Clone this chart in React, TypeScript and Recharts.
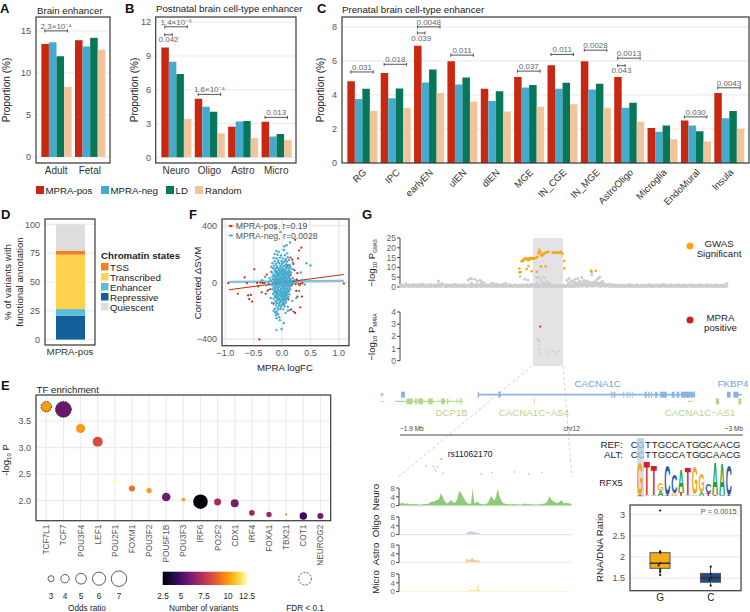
import {
  Area,
  AreaChart,
  Bar,
  BarChart,
  CartesianGrid,
  ComposedChart,
  ReferenceArea,
  ReferenceDot,
  ReferenceLine,
  Scatter,
  ScatterChart,
  XAxis,
  YAxis,
} from 'recharts'

const FONT = '"Liberation Sans", Arial, sans-serif'

// series colours shared by panels A, B, C
const SERIES = ['MPRA-pos', 'MPRA-neg', 'LD', 'Random']
const SERIES_COLORS = ['#C8280F', '#45ABCE', '#07775A', '#F0C59B']

// panel A
const brainCats = ['Adult', 'Fetal']
const brainPos = [13.45, 13.89]
const brainNeg = [13.65, 13.13]
const brainLd = [11.98, 14.17]
const brainRandom = [8.33, 12.74]
const brainBrackets = [{ cat: 0, to: 3, y: 15, label: '2.3×10⁻⁴', side: 'top' }]

// panel B
const postnatalCats = ['Neuro', 'Oligo', 'Astro', 'Micro']
const postnatalPos = [9.75, 5.2, 2.72, 3.16]
const postnatalNeg = [8.48, 4.49, 3.19, 1.86]
const postnatalLd = [7.39, 4.05, 3.22, 2.07]
const postnatalRandom = [3.4, 2.13, 1.71, 1.57]
const postnatalBrackets = [
  { cat: 0, to: 3, y: 11.59, label: '1.4×10⁻⁹', side: 'top' },
  { cat: 0, to: 1, y: 10.88, label: '0.042', side: 'bottom' },
  { cat: 1, to: 3, y: 5.59, label: '1.6×10⁻⁴', side: 'top' },
  { cat: 3, to: 3, y: 3.55, label: '0.013', side: 'top' },
]

// panel C
const prenatalCats = ['RG', 'IPC', 'earlyEN', 'ulEN', 'dlEN', 'MGE', 'IN_CGE', 'IN_MGE', 'AstroOligo', 'Microglia', 'EndoMural', 'Insula']
const prenatalPos = [4.81, 5.29, 6.89, 5.98, 4.36, 5.05, 5.74, 5.98, 5.05, 2.06, 2.5, 4.12]
const prenatalNeg = [3.76, 3.8, 4.73, 4.61, 3.64, 4.44, 4.36, 4.32, 3.25, 1.84, 2.2, 2.63]
const prenatalLd = [4.36, 4.38, 5.5, 5.03, 4.22, 4.59, 4.71, 4.65, 3.54, 2.2, 1.86, 3.05]
const prenatalRandom = [3.07, 3.25, 4.12, 3.62, 3.03, 3.31, 3.45, 3.25, 2.42, 1.39, 1.27, 2.02]
const prenatalBrackets = [
  { cat: 0, to: 3, y: 5.35, label: '0.031', side: 'top' },
  { cat: 1, to: 3, y: 5.8, label: '0.018', side: 'top' },
  { cat: 2, to: 3, y: 8.0, label: '0.0048', side: 'top' },
  { cat: 2, to: 1, y: 7.64, label: '0.039', side: 'bottom' },
  { cat: 3, to: 3, y: 6.34, label: '0.011', side: 'top' },
  { cat: 5, to: 3, y: 5.4, label: '0.037', side: 'top' },
  { cat: 6, to: 3, y: 6.38, label: '0.011', side: 'top' },
  { cat: 7, to: 3, y: 6.63, label: '0.0028', side: 'top' },
  { cat: 8, to: 3, y: 6.16, label: '0.0013', side: 'top' },
  { cat: 8, to: 1, y: 5.72, label: '0.043', side: 'bottom' },
  { cat: 10, to: 3, y: 2.71, label: '0.030', side: 'top' },
  { cat: 11, to: 3, y: 4.42, label: '0.0043', side: 'top' },
]

// panel D, bottom to top
const chromatinStates = ['Repressive', 'Enhancer', 'Transcribed', 'TSS', 'Quiescent']
const chromatinShare = [20.8, 5.7, 47.2, 3.5, 22.8]
const chromatinColors = ['#125F9A', '#5BBCDC', '#FFD24F', '#F47F20', '#DEDCDD']
const chromatinLegend = ['TSS', 'Transcribed', 'Enhancer', 'Repressive', 'Quiescent']

// panel E
const tfNames = ['TCF7L1', 'TCF7', 'POU3F4', 'LEF1', 'POU2F1', 'FOXM1', 'POU3F2', 'POU5F1B', 'POU3F3', 'IRF6', 'PO2F2', 'CDX1', 'IRF4', 'FOXA1', 'TBX21', 'COT1', 'NEUROG2']
const tfLogP = [3.77, 3.72, 3.36, 3.11, 2.36, 2.23, 2.19, 2.07, 2.02, 1.98, 1.975, 1.95, 1.77, 1.74, 1.74, 1.71, 1.71]
const tfOdds = [4.9, 7.2, 4.3, 4.7, 2.1, 3, 2.7, 4.1, 2.1, 6.6, 3.4, 3.8, 2.8, 2.7, 1.3, 3.6, 3]
const tfVariants = [10.3, 5.5, 10.3, 8.3, 12.5, 9.3, 10.3, 5.7, 10.5, 2.5, 6.9, 5.8, 6.5, 6.7, 9.5, 4.3, 5.8]
const tfFdrSignificant = ['TCF7L1', 'TCF7']
const oddsLegend = [3, 4, 5, 6, 7]
const INFERNO = ['#000004', '#160b39', '#420a68', '#6a176e', '#932667', '#bc3754', '#dd513a', '#f37819', '#fca50a', '#f6d746', '#fcffa4']

// panel F [logFC, corrected dSVM]
const posPoints = [
  [-0.95, -5], [-0.78, -80], [-0.66, 35], [-0.62, -5], [-0.6, -92], [-0.58, -118], [-0.55, -88], [-0.53, -135], [-0.49, 92], [-0.44, -3],
  [-0.42, -28], [-0.4, -402], [-0.38, -2], [-0.36, -70], [-0.34, -5], [-0.31, -4], [-0.29, -80], [-0.27, 55], [-0.25, -55], [-0.23, -15],
  [-0.21, -48], [-0.19, 75], [-0.17, -18], [-0.15, -150], [-0.13, -5], [-0.11, -62], [-0.09, -10], [-0.07, 25], [-0.05, -5], [0.03, -5],
  [0.05, 8], [0.08, -10], [0.1, 120], [0.12, -8], [0.13, -30], [0.15, 50], [0.16, -190], [0.17, -20], [0.18, 160], [0.18, -10],
  [0.2, 130], [0.2, -205], [0.21, 5], [0.23, 300], [0.23, -215], [0.24, -12], [0.25, -60], [0.26, 20], [0.27, -100], [0.28, 170],
  [0.29, -10], [0.3, 225], [0.31, -20], [0.32, -175], [0.33, -8], [0.34, 245], [0.35, -100], [0.36, -5], [1.09, -8], [0.15, 175],
  [0.02, -90], [0.06, 60], [-0.02, 15], [0.11, -120], [0.22, 85], [0.27, 65],
]
const negPoints = [
  [-0.12, 380], [-0.03, 355], [0.14, 281], [0.08, 262], [0.04, 255], [-0.1, 222], [-0.06, 215], [0.03, 228], [0.09, 205], [-0.13, 200],
  [-0.08, 195], [-0.02, 190], [0.05, 192], [0.1, 178], [-0.15, 172], [-0.1, 170], [-0.04, 175], [0.01, 168], [0.06, 165], [0.12, 160],
  [-0.13, 150], [-0.07, 155], [-0.01, 150], [0.04, 148], [0.09, 145], [-0.17, 135], [-0.11, 132], [-0.05, 135], [0, 130], [0.07, 128],
  [0.13, 125], [-0.14, 118], [-0.09, 115], [-0.03, 118], [0.02, 112], [0.05, 118], [0.1, 108], [0.15, 112], [-0.16, 100], [-0.12, 97],
  [-0.07, 100], [-0.01, 96], [0.03, 94], [0.08, 98], [0.12, 90], [0.17, 94], [-0.13, 84], [-0.09, 80], [-0.05, 86], [0, 78],
  [0.04, 82], [0.09, 76], [0.14, 78], [-0.18, 70], [-0.11, 68], [-0.06, 66], [-0.02, 72], [0.02, 64], [0.06, 70], [0.11, 62],
  [0.16, 66], [-0.15, 56], [-0.1, 52], [-0.04, 58], [0.01, 50], [0.05, 54], [0.1, 48], [0.13, 56], [-0.17, 42], [-0.12, 38],
  [-0.08, 44], [-0.03, 36], [0.03, 40], [0.07, 34], [0.12, 38], [0.19, 32], [-0.14, 26], [-0.09, 24], [-0.05, 28], [0, 22],
  [0.04, 26], [0.09, 20], [0.15, 24], [0.22, 18], [-0.2, 14], [-0.13, 12], [-0.07, 10], [-0.02, 14], [0.02, 8], [0.06, 12],
  [0.11, 6], [0.17, 10], [0.26, 4], [-0.24, -2], [-0.16, -4], [-0.11, 0], [-0.05, -6], [0, 2], [0.05, -3], [0.1, -8],
  [0.14, 0], [0.2, -6], [-0.18, -16], [-0.12, -20], [-0.08, -14], [-0.03, -22], [0.02, -18], [0.07, -24], [0.12, -16], [0.16, -22],
  [-0.15, -32], [-0.1, -36], [-0.05, -30], [0, -38], [0.04, -34], [0.09, -40], [0.13, -30], [-0.17, -48], [-0.12, -52], [-0.07, -46],
  [-0.02, -54], [0.03, -50], [0.08, -56], [0.14, -48], [-0.14, -64], [-0.09, -68], [-0.04, -62], [0.01, -70], [0.05, -66], [0.1, -72],
  [-0.16, -82], [-0.11, -78], [-0.06, -86], [-0.01, -80], [0.04, -88], [0.08, -82], [0.13, -84], [-0.13, -96], [-0.08, -100], [-0.03, -94],
  [0.02, -102], [0.06, -98], [0.11, -104], [-0.15, -114], [-0.1, -110], [-0.05, -118], [0, -112], [0.04, -120], [0.09, -116], [-0.12, -130],
  [-0.07, -126], [-0.02, -134], [0.03, -128], [0.07, -136], [-0.18, -145], [-0.09, -146], [-0.04, -142], [0.01, -150], [0.05, -148], [-0.11, -162],
  [-0.06, -166], [-0.01, -160], [0.04, -168], [0.1, -172], [-0.13, -185], [-0.08, -180], [-0.03, -186], [0.02, -190], [-0.15, -200], [-0.1, -205],
  [-0.12, -212], [-0.09, -218], [-0.07, -226], [-0.11, -232], [-0.05, -246], [-0.1, -252], [-0.04, -266], [0.03, -286], [-0.1, -336], [-0.01, -328],
  [0.06, -215], [0.1, -200], [0.13, -195], [0.43, 135], [0.5, 120], [0.33, 70], [0.2, 92], [-0.3, 40], [-0.35, 15], [-0.28, -20],
  [-0.22, 30], [0.35, 20], [0.4, -15], [0.3, -60], [0.25, -110], [-0.26, -60], [-0.2, -110], [0.18, -130], [0.19, 140], [-0.19, 110],
  // densest part of the cloud
  [-0.07, 142], [0.02, 140], [0.07, 152], [-0.03, 108], [0.07, 108], [-0.1, 106], [0.13, 102], [-0.05, 92], [0.01, 88], [0.06, 88],
  [-0.12, 76], [-0.08, 72], [-0.03, 80], [0.03, 74], [0.07, 66], [0.12, 72], [-0.07, 58], [-0.01, 60], [0.03, 56], [0.08, 58],
  [-0.14, 48], [-0.06, 46], [-0.01, 44], [0.05, 44], [0.1, 40], [-0.1, 32], [-0.04, 20], [0.02, 32], [0.07, 28], [0.12, 30],
  [-0.16, 22], [-0.11, 18], [-0.02, 26], [0.02, 18], [0.08, 14], [0.13, 16], [-0.09, 6], [-0.04, 4], [0.02, 0], [0.07, 4],
  [0.12, -2], [0.17, -2], [-0.14, -8], [-0.07, -4], [-0.02, -10], [0.03, -10], [0.08, -14], [-0.1, -22], [-0.05, -16], [0, -24],
  [0.05, -22], [0.1, -26], [0.15, -12], [-0.13, -40], [-0.07, -38], [-0.02, -44], [0.02, -40], [0.06, -44], [0.11, -50], [-0.1, -60],
  [-0.06, -56], [-0.01, -64], [0.03, -60], [0.07, -68], [0.12, -62], [-0.12, -72], [-0.07, -76], [-0.03, -72], [0.02, -78], [0.06, -76],
  [-0.1, -90], [-0.04, -88], [0.01, -92], [0.05, -94], [0.09, -92], [-0.11, -104], [-0.06, -108], [-0.01, -104], [0.03, -110], [0.07, -112],
  [-0.08, -120], [-0.03, -124], [0.01, -122], [0.06, -124], [-0.1, -140], [-0.05, -152], [0.02, -138], [-0.02, -172], [0.03, -156], [-0.07, -192],
]
const posTrend = [[-0.94, -52], [1.09, 56]]
const negTrend = [[-0.94, 4], [1.09, 11]]

// panel G, GWAS [Mb, -log10 P]
const gwasSignificant = [
  [2.283, 7.5], [2.283, 9.4], [2.287, 7.6], [2.29, 13], [2.293, 13.8], [2.296, 13.4], [2.299, 14.5], [2.302, 14.2], [2.305, 14.7], [2.308, 14.4],
  [2.311, 13.6], [2.314, 14.6], [2.317, 14.2], [2.32, 14.8], [2.323, 14.4], [2.326, 14.6], [2.329, 14.5], [2.332, 14.7], [2.335, 14.8], [2.338, 15],
  [2.341, 15.4], [2.345, 18], [2.347, 19], [2.344, 17.2], [2.35, 17.8], [2.352, 16.5], [2.354, 16], [2.357, 16.2], [2.36, 16.8], [2.363, 17.2],
  [2.365, 17.5], [2.369, 17.6], [2.372, 17.8], [2.376, 18], [2.389, 17.5], [2.393, 17.7], [2.397, 17.4], [2.401, 17.6], [2.405, 17.4], [2.411, 17.5],
  [2.415, 18], [2.418, 17.6], [2.421, 16.8], [2.427, 13.3], [2.427, 9.5], [2.306, 9.2], [2.312, 10.7], [2.322, 8], [2.339, 7.8], [2.352, 10.5],
  [2.367, 10.4], [2.513, 8.3], [2.514, 7.7], [2.528, 8.3],
]
const gwasPeakGrey = [
  [2.023, 3], [2.119, 3.6], [2.125, 4.4], [2.13, 4.2], [2.14, 3.9], [2.148, 3], [2.157, 3.4], [2.163, 2.6], [2.3, 3.9], [2.31, 3.6],
  [2.285, 5.4], [2.338, 4.9], [2.346, 4.8], [2.363, 4.8], [2.37, 2.7], [2.352, 3.4], [2.358, 2.2], [2.34, 2.2], [2.38, 1.9], [2.435, 3.5],
  [2.442, 4.4], [2.45, 3.2], [2.446, 2.4], [2.455, 2.8], [2.461, 4], [2.465, 2.2], [2.47, 4.4], [2.476, 3], [2.483, 4.9], [2.487, 2.6],
  [2.49, 3.4], [2.495, 2.2], [2.5, 3], [2.505, 2], [2.515, 6.3], [2.52, 2.4], [2.525, 2.7], [2.53, 3.6], [2.536, 4.4], [2.54, 5.1],
  [2.544, 2.4], [2.55, 2.8], [2.44, 2], [2.458, 2], [2.478, 2.2], [2.51, 2.6], [2.535, 2.1], [2.13, 2.2], [2.17, 2], [2.195, 1.9],
]
// one reading every 0.00478 Mb from 1.9 Mb, lower edge of the grey band
const gwasBackground = [
  0.9, 1.3, 0.6, 1.1, 1.6, 0.8, 1.2, 0.5, 1.0, 1.4, 0.7, 1.1, 0.6, 1.3, 0.9, 1.5, 0.7, 1.0, 0.5, 1.2,
  0.8, 1.4, 0.6, 1.0, 1.2, 0.7, 1.5, 0.9, 1.8, 1.1, 0.6, 1.3, 0.8, 1.0, 0.5, 1.2, 0.9, 1.4, 0.7, 1.1,
  0.6, 1.0, 0.8, 1.3, 0.5, 0.9, 1.2, 0.7, 1.6, 1.0, 0.8, 1.4, 1.1, 0.6, 1.5, 0.9, 1.2, 1.7, 0.8, 1.1,
  0.7, 1.3, 1.0, 1.6, 0.9, 1.4, 0.6, 1.2, 0.8, 1.5, 1.0, 1.9, 0.7, 1.3, 1.1, 0.8, 0.6, 1.2, 0.9, 0.5,
  1.0, 0.7, 1.1, 0.6, 0.9, 1.3, 0.5, 1.0, 1.5, 0.8, 1.2, 0.7, 1.7, 1.0, 0.6, 1.4, 0.9, 1.6, 1.1, 1.3,
  0.8, 0.4, 0.7, 0.9, 0.5, 0.8, 0.6, 0.9, 0.7, 0.5, 0.8, 0.6, 0.7, 0.9, 0.5, 0.8, 0.6, 1.0, 1.6, 1.2,
  1.9, 1.4, 2.1, 1.0, 1.7, 1.3, 2.0, 1.1, 1.8, 1.5, 2.2, 1.2, 1.9, 1.0, 1.6, 2.0, 1.3, 1.7, 0.9, 1.4,
  1.1, 1.5, 0.7, 1.2, 0.9, 1.0, 0.6, 0.8, 1.1, 0.7, 0.9, 0.6, 1.0, 0.8, 1.3, 0.7, 1.0, 0.6, 0.9, 1.2,
  0.8, 0.5, 1.0, 0.7, 1.1, 0.6, 0.9, 1.3, 0.7, 1.0, 0.5, 0.8, 1.1, 0.6, 0.9, 1.2, 0.7, 1.4, 0.8, 1.0,
  0.6, 0.9, 1.1, 0.7, 0.5, 1.0, 0.8, 1.2, 0.6, 0.9, 0.7, 1.1, 0.5, 0.8, 1.0, 0.6, 1.2, 0.7, 0.9, 0.5,
  0.8, 1.1, 0.6, 1.0, 0.7, 0.9, 1.3, 0.6, 0.8, 1.0, 0.5, 0.7, 1.1, 0.8, 0.6, 0.9, 0.7, 1.0, 0.5, 1.8,
]
const gwasBackgroundLow = [
  0.3, 0.5, 0.2, 0.4, 0.6, 0.3, 0.2, 0.5, 0.4, 0.3, 0.6, 0.2, 0.4, 0.5, 0.3, 0.6, 0.2, 0.4, 0.3, 0.5,
  0.2, 0.4, 0.6, 0.3, 0.5, 0.2, 0.4, 0.3, 0.6, 0.5, 0.2, 0.3, 0.4, 0.6, 0.2, 0.5, 0.3, 0.4, 0.2, 0.6,
  0.3, 0.5, 0.4, 0.2, 0.3, 0.6, 0.4, 0.2, 0.5, 0.3, 0.6, 0.2, 0.4, 0.5, 0.3, 0.2, 0.6, 0.4, 0.3, 0.5,
  0.2, 0.6, 0.3, 0.4, 0.5, 0.2, 0.3, 0.6, 0.4, 0.2, 0.5, 0.3, 0.6, 0.4, 0.2, 0.3, 0.5, 0.6, 0.2, 0.4,
  0.3, 0.5, 0.2, 0.6, 0.4, 0.3, 0.2, 0.5, 0.4, 0.6, 0.3, 0.2, 0.5, 0.3, 0.4, 0.6, 0.2, 0.5, 0.3, 0.4,
  0.6, 0.3, 0.5, 0.2, 0.4, 0.3, 0.6, 0.2, 0.4, 0.5, 0.3, 0.2, 0.6, 0.4, 0.3, 0.5, 0.2, 0.4, 0.6, 0.3,
  0.5, 0.7, 0.4, 0.8, 0.6, 0.3, 0.9, 0.5, 0.7, 0.4, 0.8, 0.6, 0.5, 0.7, 0.3, 0.6, 0.8, 0.4, 0.5, 0.7,
  0.3, 0.6, 0.4, 0.5, 0.2, 0.4, 0.3, 0.6, 0.2, 0.5, 0.3, 0.4, 0.6, 0.2, 0.3, 0.5, 0.4, 0.2, 0.6, 0.3,
  0.5, 0.2, 0.4, 0.3, 0.6, 0.2, 0.5, 0.4, 0.3, 0.2, 0.6, 0.4, 0.5, 0.3, 0.2, 0.4, 0.6, 0.3, 0.5, 0.2,
  0.4, 0.3, 0.6, 0.2, 0.5, 0.4, 0.3, 0.6, 0.2, 0.4, 0.5, 0.3, 0.2, 0.6, 0.4, 0.3, 0.5, 0.2, 0.4, 0.6,
  0.3, 0.5, 0.2, 0.4, 0.6, 0.3, 0.2, 0.5, 0.4, 0.3, 0.6, 0.2, 0.4, 0.5, 0.3, 0.6, 0.2, 0.4, 0.3, 0.5,
]
const MB_STEP = 0.00478

// panel G, MPRA [Mb, -log10 P]
const mpraPositive = [[2.3497, 2.8]]
const mpraGrey = [
  [2.341, 1.73], [2.345, 1.68], [2.3475, 1.57], [2.346, 1.26], [2.3465, 0.94], [2.3505, 0.58],
  [2.3725, 0.47], [2.3783, 0.73], [2.3915, 0.79], [2.3995, 0.52], [2.407, 0.73],
]
const locusGwas = [[2.3497, 2.8]]

// gene models, in Mb
const geneLinesPlus = [[2.151, 2.846], [2.969, 2.996]]
const geneExonsPlus = [
  [1.903, 1.916], [2.149, 2.153], [2.215, 2.223], [2.577, 2.581], [2.585, 2.59], [2.616, 2.619], [2.627, 2.63], [2.636, 2.639], [2.645, 2.647],
  [2.684, 2.691], [2.696, 2.7], [2.705, 2.708], [2.718, 2.725], [2.734, 2.755], [2.771, 2.78], [2.787, 2.795], [2.801, 2.841], [2.841, 2.846],
  [2.948, 2.96], [2.969, 2.985],
]
const geneLinesMinus = [[1.884, 2.014], [2.018, 2.1], [2.823, 2.838]]
const geneExonsMinus = [
  [1.921, 1.94], [1.948, 1.955], [1.959, 1.974], [1.991, 2.005], [2.032, 2.044], [2.051, 2.055], [2.082, 2.084], [2.092, 2.095], [2.098, 2.1],
  [2.33, 2.332], [2.912, 2.923], [2.985, 2.994],
]

// chromatin accessibility tracks
const neuroSignal = [
  0.8, 1, 1.2, 0.9, 0.8, 0.9, 0.7, 0.7, 0.6, 0.7, 0.6, 0.6, 0.5, 0.5, 0.6, 0.6, 0.7, 0.8, 1, 1.6,
  1.9, 1.7, 2.4, 2.6, 3.2, 5.6, 4.1, 2.4, 1.4, 1, 1.8, 2.6, 1.7, 1.2, 1.8, 3.5, 6.6, 6, 4.4, 3.2,
  1.8, 1.1, 0.8, 0.8, 7.9, 0.9, 1.5, 1.9, 1, 0.7, 0.6, 0.6, 0.7, 1.2, 2.4, 4.4, 3.2, 2.2, 4, 7.8,
  4.5, 2.6, 1.2, 0.9, 0.7, 0.6, 0.7, 0.5, 0.6, 0.7, 0.6, 0.5, 0.6, 0.5, 0.6, 0.9, 0.8, 0.6, 0.7, 0.6,
  0.5, 0.6, 0.5, 0.6, 0.5, 0.7, 0.8, 1, 1.4, 2.6, 4.2, 2.8, 2.1, 1.6, 1.2, 1.3, 1.8, 2.6, 1.5, 0.9,
  1.3, 1.1, 0.9, 0.8,
]
const oligoSignal = [[0, 0], [199, 0], [200, 0.6], [205, 0.8], [210, 1.8], [213, 0.8], [217, 1.7], [222, 0.9], [230, 0.9], [240, 0.6], [246, 0], [515, 0]]
const astroSignal = [[0, 0], [199, 0], [200, 1.2], [203, 2.2], [207, 1], [215, 1.5], [219, 2.2], [224, 1.2], [232, 1], [240, 1], [246, 0], [515, 0]]
const microSignal = [[0, 0], [199, 0], [200, 0.3], [205, 0.5], [215, 0.8], [220, 0.4], [224, 1], [232, 0.6], [237, 3.8], [239, 0.8], [246, 0], [515, 0]]

// motif logo, top and lower letter per position, in bits
const refSeq = 'CGTTGCCATGGCAACG'
const altSeq = 'CCTTGCCATGGCAACG'
const logoUpper = ['G', 'T', 'T', 'G', 'C', 'C', 'A', 'T', 'G', 'G', 'C', 'A', 'A', 'C']
const logoUpperBits = [1.94, 1.95, 1.76, 0.45, 1.75, 1.05, 1.3, 1.56, 1.58, 1.04, 0.52, 1.87, 1.81, 1.73]
const logoLower = ['T', 'A', 'A', 'A', 'T', 'G', 'T', 'A', 'A', 'A', 'T', 'T', 'C', 'T']
const logoLowerBits = [0.06, 0.05, 0.05, 0.27, 0.06, 0.15, 0.2, 0.08, 0.1, 0.2, 0.15, 0.06, 0.06, 0.08]
const LOGO_COLORS: Record<string, string> = { A: '#1E9E4A', C: '#1F5FAE', G: '#EFA81F', T: '#D01C35' }

// RNA/DNA boxplot
const alleles = ['G', 'C']
const alleleQ1 = [1.73, 1.4]
const alleleMedian = [1.85, 1.51]
const alleleQ3 = [2.1, 1.61]
const alleleWhiskerLow = [1.57, 1.31]
const alleleWhiskerHigh = [2.13, 1.77]
const allelePoints = [
  [0.5, 3.1], [0.5, 2.13], [0.5, 2.1], [0.5, 1.85], [0.47, 1.8], [0.5, 1.7], [0.5, 1.65], [0.5, 1.57],
  [1.5, 1.77], [1.5, 1.6], [1.5, 1.5], [1.47, 1.45], [1.5, 1.32],
]
const ALLELE_COLORS = ['#F2AC14', '#1F4E8C']

const GRID = '#ECECEC'
const FRAME = '#3A3A3A'
const TICK = '#555'

const toXY = (pts: number[][]) => pts.map(([x, y]) => ({ x, y }))
const abs = (left: number, top: number) => ({ position: 'absolute' as const, left, top })

function infernoAt(v: number) {
  const t = Math.max(0, Math.min(1, (v - 2.5) / 10)) * (INFERNO.length - 1)
  const i = Math.min(INFERNO.length - 2, Math.floor(t))
  const a = INFERNO[i]
  const b = INFERNO[i + 1]
  const ch = (s: string, k: number) => parseInt(s.slice(1 + k * 2, 3 + k * 2), 16)
  const mix = [0, 1, 2].map((k) => Math.round(ch(a, k) + (ch(b, k) - ch(a, k)) * (t - i)))
  return `rgb(${mix.join(',')})`
}

const Dot = (r: number, fill: string) => (p: any) => <circle cx={p.cx} cy={p.cy} r={r} fill={fill} />

function BracketLine(p: any) {
  const { x1, x2, y1 } = p
  return (
    <g stroke="#444" strokeWidth={0.9}>
      <line x1={x1} x2={x2} y1={y1} y2={y1} />
      <line x1={x1} x2={x1} y1={y1 - 1.6} y2={y1 + 1.6} />
      <line x1={x2} x2={x2} y1={y1 - 1.6} y2={y1 + 1.6} />
    </g>
  )
}

function BarPanel({ box, cats, values, brackets, domain, ticks, angled }: any) {
  const n = cats.length
  const w = box.r - box.l
  const h = box.b - box.t
  const unit = w / (n + 0.2)
  const pad = unit * 0.1
  const data = cats.map((cat: string, i: number) => ({ cat, s0: values[0][i], s1: values[1][i], s2: values[2][i], s3: values[3][i] }))
  // the hidden number axis spans 0..n-1 over the categories, so rescale group units to it
  const barX = (cat: number, k: number) => ((cat + 0.05 + (0.9 * (k + 0.5)) / 4) * (n - 1)) / n
  const axisH = 50
  const rotTick = (p: any) => (
    <text transform={`translate(${p.x + 5},${p.y + 6}) rotate(-45)`} textAnchor="end" fontSize={9.6} fill="#333" fontFamily={FONT}>
      {p.payload.value}
    </text>
  )
  return (
    <div style={abs(box.l - 30, box.t - 12)}>
      <BarChart width={w + 30 + 2} height={h + 12 + axisH} data={data} margin={{ left: 0, top: 12, right: 2, bottom: 0 }} barGap={0} style={{ fontFamily: FONT }}>
        <CartesianGrid vertical={false} stroke={GRID} strokeWidth={1.2} />
        <XAxis dataKey="cat" interval={0} axisLine={false} tickLine={false} height={axisH} padding={{ left: pad, right: pad }} tickSize={2} tick={angled ? rotTick : { fontSize: 10, fill: '#333' }} />
        <XAxis xAxisId="num" type="number" domain={[0, n - 1]} hide padding={{ left: pad, right: pad }} />
        <YAxis width={30} domain={domain} ticks={ticks} interval={0} axisLine={false} tickLine={false} tickSize={3} tick={{ fontSize: 9, fill: TICK }} allowDataOverflow />
        {[0, 1, 2, 3].map((k) => (
          <Bar key={k} dataKey={`s${k}`} name={SERIES[k]} fill={SERIES_COLORS[k]} barSize={(unit * 0.9) / 4} isAnimationActive={false} />
        ))}
        {brackets.map((b: any, i: number) => (
          <ReferenceLine
            key={`l${i}`}
            xAxisId="num"
            segment={[{ x: barX(b.cat, 0), y: b.y }, { x: barX(b.cat, b.to), y: b.y }]}
            ifOverflow="visible"
            shape={BracketLine}
          />
        ))}
        {brackets.map((b: any, i: number) => (
          <ReferenceDot
            key={`d${i}`}
            xAxisId="num"
            x={(barX(b.cat, 0) + barX(b.cat, b.to)) / 2}
            y={b.y}
            r={0}
            ifOverflow="visible"
            label={{ value: b.label, position: b.side, offset: 2, fontSize: 8, fill: '#666' }}
          />
        ))}
      </BarChart>
    </div>
  )
}

function Track({ top, data, fill, base }: any) {
  return (
    <div style={abs(399.3 - 16, top - 6)}>
      <AreaChart width={16 + 172.4} height={6 + 17.6 + 6} data={data} margin={{ left: 0, top: 6, right: 0, bottom: 6 }} style={{ fontFamily: FONT }}>
        <XAxis dataKey="x" type="number" domain={[0, 515]} hide />
        <YAxis width={16} domain={[0, 8]} ticks={[0, 4, 8]} interval={0} tickSize={3} tickMargin={1} stroke="#444" tick={{ fontSize: 8, fill: '#666' }} />
        <ReferenceLine y={0} stroke={base} strokeWidth={1.2} />
        <Area dataKey="v" type="linear" stroke="none" fill={fill} fillOpacity={1} isAnimationActive={false} />
      </AreaChart>
    </div>
  )
}

function LetterShape({ x, y, width, height, letter }: any) {
  if (!height || height <= 0) return null
  const adv: Record<string, number> = { A: 0.722, C: 0.722, G: 0.778, T: 0.611 }
  const sx = width / (adv[letter] * 10)
  const sy = height / 7.2
  return (
    <text
      transform={`translate(${x + width / 2},${y + height}) scale(${sx},${sy})`}
      textAnchor="middle"
      fontSize={10}
      fontWeight="bold"
      fontFamily={FONT}
      fill={LOGO_COLORS[letter]}
    >
      {letter}
    </text>
  )
}

function BoxShape(p: any) {
  const { x, y, width, height, payload, index } = p
  const ppu = height / (payload.q3 - payload.q1)
  const at = (v: number) => y + (payload.q3 - v) * ppu
  const cx = x + width / 2
  return (
    <g stroke="#555" strokeWidth={1}>
      <line x1={cx} x2={cx} y1={at(payload.hi)} y2={at(payload.lo)} />
      <rect x={x} y={y} width={width} height={height} fill={ALLELE_COLORS[index]} />
      <line x1={x} x2={x + width} y1={at(payload.median)} y2={at(payload.median)} strokeWidth={1.6} stroke="#333" />
    </g>
  )
}

function T({ x, y, s = 9.7, c = '#222', a = 'start', b, r, children }: any) {
  return (
    <text
      x={x}
      y={y}
      fontSize={s}
      fill={c}
      textAnchor={a}
      fontWeight={b ? 'bold' : 'normal'}
      dominantBaseline="central"
      transform={r ? `rotate(${r} ${x} ${y})` : undefined}
    >
      {children}
    </text>
  )
}

function Overlay() {
  const frames = [
    [36, 17, 74, 146],
    [155.7, 17, 140.3, 146],
    [342, 17, 407, 146],
    [45, 219, 50, 126],
    [222, 219, 127, 126.7],
    [36, 395, 294.7, 125.7],
    [630, 505, 111, 85.7],
  ]
  const chromatinColor = (name: string) => chromatinColors[chromatinStates.indexOf(name)]
  const oddsX = [51, 65, 81, 99, 119]
  const barTicks = [
    ['2.5', 163],
    ['5', 181],
    ['7.5', 204],
    ['10', 228],
    ['12.5', 247],
  ]
  return (
    <svg width={750} height={612} style={{ position: 'absolute', left: 0, top: 0, fontFamily: FONT, pointerEvents: 'none' }}>
      <defs>
        <linearGradient id="inferno">
          {INFERNO.map((c, i) => (
            <stop key={c} offset={`${i * 10}%`} stopColor={c} />
          ))}
        </linearGradient>
      </defs>
      {frames.map(([x, y, w, h], i) => (
        <rect key={i} x={x} y={y} width={w} height={h} fill="none" stroke={FRAME} strokeWidth={1.2} />
      ))}

      <T x={0} y={8} s={13} c="#111" b>A</T>
      <T x={125} y={8} s={13} c="#111" b>B</T>
      <T x={317} y={8} s={13} c="#111" b>C</T>
      <T x={1} y={214} s={13} c="#111" b>D</T>
      <T x={189} y={214} s={13} c="#111" b>F</T>
      <T x={1} y={385} s={13} c="#111" b>E</T>
      <T x={362} y={214} s={13} c="#111" b>G</T>

      <T x={37} y={10.5}>Brain enhancer</T>
      <T x={156} y={8.5}>Postnatal brain cell-type enhancer</T>
      <T x={342} y={9}>Prenatal brain cell-type enhancer</T>
      <T x={6} y={90} a="middle" r={-90} s={10}>Proportion (%)</T>
      <T x={134} y={90} a="middle" r={-90} s={10}>Proportion (%)</T>
      <T x={320.5} y={90} a="middle" r={-90} s={10}>Proportion (%)</T>

      {[36, 101, 166, 195].map((x, i) => (
        <rect key={x} x={x} y={186} width={8} height={8} fill={SERIES_COLORS[i]} />
      ))}
      <T x={45.5} y={190}>MPRA-pos</T>
      <T x={110.5} y={190}>MPRA-neg</T>
      <T x={175.5} y={190}>LD</T>
      <T x={205} y={190}>Random</T>

      <T x={7} y={282} a="middle" r={-90}>% of variants with</T>
      <T x={19} y={282} a="middle" r={-90}>functional annotation</T>
      <T x={101} y={255} b>Chromatin states</T>
      {chromatinLegend.map((name, i) => (
        <g key={name}>
          <rect x={101} y={263 + i * 10} width={7.5} height={7.5} fill={chromatinColor(name)} />
          <T x={110} y={267 + i * 10}>{name}</T>
        </g>
      ))}

      <T x={197} y={283} a="middle" r={-90}>Corrected ΔSVM</T>
      <T x={285} y={367} a="middle">MPRA logFC</T>
      <line x1={228.5} x2={233} y1={226} y2={226} stroke={SERIES_COLORS[0]} />
      <circle cx={230.7} cy={226} r={1.2} fill={SERIES_COLORS[0]} />
      <line x1={228.5} x2={233} y1={235.5} y2={235.5} stroke={SERIES_COLORS[1]} />
      <circle cx={230.7} cy={235.5} r={1.2} fill={SERIES_COLORS[1]} />
      <T x={235.7} y={226} s={8.7} c="#555">MPRA-pos, r=0.19</T>
      <T x={235.7} y={235.5} s={8.7} c="#555">MPRA-neg, r=0.0028</T>

      <T x={36.5} y={389.5}>TF enrichment</T>
      <text transform="translate(8.5,460) rotate(-90)" textAnchor="middle" fontSize={9.5} fill="#222">
        -log<tspan fontSize={6} dy={2}>10</tspan><tspan dy={-2}> P</tspan>
      </text>
      {oddsLegend.map((o, i) => (
        <g key={o}>
          <circle cx={oddsX[i]} cy={578.7} r={1.175 * o - 0.5} fill="none" stroke="#333" strokeWidth={0.8} />
          <T x={oddsX[i]} y={596} s={8.2} a="middle">{o}</T>
        </g>
      ))}
      <T x={87} y={608} s={8.2} a="middle">Odds ratio</T>
      <rect x={162.7} y={571.7} width={84} height={13.3} fill="url(#inferno)" />
      {barTicks.map(([l, x]) => (
        <T key={l as string} x={x} y={596} s={8.2} a="middle">{l}</T>
      ))}
      <T x={203.7} y={608} s={8.2} a="middle">Number of variants</T>
      <circle cx={305} cy={578.7} r={6.3} fill="none" stroke="#333" strokeWidth={0.8} strokeDasharray="2 1.4" />
      <T x={305} y={608} s={8.2} a="middle">FDR &lt; 0.1</T>

      <text transform="translate(375,263) rotate(-90)" textAnchor="middle" fontSize={9.5} fill="#222">
        −log<tspan fontSize={6} dy={2}>10</tspan><tspan dy={-2}> P</tspan><tspan fontSize={4.5} dy={2}>GWAS</tspan>
      </text>
      <text transform="translate(375,337) rotate(-90)" textAnchor="middle" fontSize={9.5} fill="#222">
        −log<tspan fontSize={6} dy={2}>10</tspan><tspan dy={-2}> P</tspan><tspan fontSize={4.5} dy={2}>MPRA</tspan>
      </text>
      <circle cx={690} cy={246} r={3.5} fill="#F7A80F" />
      <T x={719} y={243} a="middle">GWAS</T>
      <T x={719} y={253} a="middle">Significant</T>
      <circle cx={690} cy={320} r={3.5} fill={SERIES_COLORS[0]} />
      <T x={720.5} y={317} a="middle">MPRA</T>
      <T x={720.5} y={327} a="middle">positive</T>

      <line x1={532} y1={366} x2={398} y2={477} stroke="#BBB" strokeWidth={0.7} strokeDasharray="3 2.5" />
      <line x1={563} y1={366} x2={572} y2={477} stroke="#BBB" strokeWidth={0.7} strokeDasharray="3 2.5" />

      <T x={382} y={394.5} s={9} c="#7FA9DD" a="middle">+</T>
      <T x={382} y={401} s={9} c="#A8CF82" a="middle">−</T>
      <T x={597.7} y={383.5} c="#6F9FDC" a="middle">CACNA1C</T>
      <T x={733} y={383.5} c="#6F9FDC" a="middle">FKBP4</T>
      <T x={451.7} y={412.5} c="#B7D690" a="middle">DCP1B</T>
      <T x={534} y={412.5} c="#B7D690" a="middle">CACNA1C−AS4</T>
      <T x={700} y={412.5} c="#B7D690" a="middle">CACNA1C−AS1</T>
      <T x={400} y={428} s={6.5} c="#444">~1.9 Mb</T>
      <T x={571.7} y={428} s={6.5} c="#444" a="middle">chr12</T>
      <T x={743} y={428} s={6.5} c="#444" a="end">~3 Mb</T>
      <line x1={400} x2={743} y1={435} y2={435} stroke="#A3A3A3" strokeWidth={2} />
      <T x={447.7} y={454} s={8.6}>rs11062170</T>

      <T x={375} y={497} a="middle" r={-90}>Neuro</T>
      <T x={375} y={526} a="middle" r={-90}>Oligo</T>
      <T x={375} y={554} a="middle" r={-90}>Astro</T>
      <T x={375} y={582} a="middle" r={-90}>Micro</T>

      <T x={622.7} y={444} a="end">REF:</T>
      <T x={622.7} y={454.7} a="end">ALT:</T>
      {refSeq.split('').map((ch, i) => (
        <T key={`r${i}`} x={634.2 + i * 6.83} y={444} a="middle" s={9.6} c={i === 1 ? '#7FB2D0' : '#222'}>{ch}</T>
      ))}
      {altSeq.split('').map((ch, i) => (
        <T key={`a${i}`} x={634.2 + i * 6.83} y={454.7} a="middle" s={9.6} c={i === 1 ? '#7FB2D0' : '#222'}>{ch}</T>
      ))}
      <T x={622.7} y={483} a="end" s={9.2}>RFX5</T>

      <T x={600} y={547.7} a="middle" r={-90}>RNA/DNA Ratio</T>
      <T x={736.7} y={511.7} s={7.4} c="#555" a="end">P = 0.0015</T>
    </svg>
  )
}

export default function App() {
  const brainValues = [brainPos, brainNeg, brainLd, brainRandom]
  const postnatalValues = [postnatalPos, postnatalNeg, postnatalLd, postnatalRandom]
  const prenatalValues = [prenatalPos, prenatalNeg, prenatalLd, prenatalRandom]

  const chromatinRow: any = { name: 'MPRA-pos' }
  chromatinStates.forEach((s, i) => (chromatinRow[s] = chromatinShare[i]))

  const tfData = tfNames.map((name, i) => ({ i, name, p: tfLogP[i], odds: tfOdds[i], variants: tfVariants[i] }))
  const tfShape = (p: any) => {
    const d = p.payload
    const sig = tfFdrSignificant.includes(d.name)
    return <circle cx={p.cx} cy={p.cy} r={1.175 * d.odds - 0.5} fill={infernoAt(d.variants)} stroke={sig ? '#111' : 'none'} strokeWidth={0.8} strokeDasharray={sig ? '1.6 1.2' : undefined} />
  }
  const tfTick = (p: any) => (
    <text transform={`translate(${p.x + 3},${p.y}) rotate(-90)`} textAnchor="end" fontSize={8.3} fill={TICK} fontFamily={FONT}>
      {tfNames[p.payload.value]}
    </text>
  )

  const greyBand = [
    ...gwasBackground.map((y, i) => ({ x: 1.9 + i * MB_STEP, y })),
    ...gwasBackgroundLow.map((y, i) => ({ x: 1.902 + i * MB_STEP, y })),
    ...toXY(gwasPeakGrey),
  ]

  const logoData = logoUpper.map((u, i) => ({ pos: i, upper: logoUpperBits[i], lower: logoLowerBits[i], u, l: logoLower[i] }))
  const boxData = alleles.map((a, i) => ({
    a,
    iqr: [alleleQ1[i], alleleQ3[i]],
    q1: alleleQ1[i],
    q3: alleleQ3[i],
    median: alleleMedian[i],
    lo: alleleWhiskerLow[i],
    hi: alleleWhiskerHigh[i],
  }))

  const geneChart = (lines: number[][], exons: number[][], row: number, color: string) => (
    <>
      {lines.map(([a, b]) => (
        <ReferenceLine key={a} segment={[{ x: a, y: row }, { x: b, y: row }]} stroke={color} strokeWidth={row === 1 ? 1.6 : 1.1} ifOverflow="visible" />
      ))}
      {exons.map(([a, b]) => (
        <ReferenceArea key={a} x1={a} x2={b} y1={row - 0.45} y2={row + 0.45} fill={color} fillOpacity={1} stroke="none" ifOverflow="visible" />
      ))}
    </>
  )

  return (
    <div style={{ position: 'absolute', left: 0, top: 0, width: 750, height: 612, background: '#fff', overflow: 'hidden', fontFamily: FONT }}>
      <BarPanel box={{ l: 36, t: 17, r: 110, b: 163 }} cats={brainCats} values={brainValues} brackets={brainBrackets} domain={[-0.72, 16.65]} ticks={[0, 5, 10, 15]} />
      <BarPanel box={{ l: 155.7, t: 17, r: 296, b: 163 }} cats={postnatalCats} values={postnatalValues} brackets={postnatalBrackets} domain={[-0.5, 12.46]} ticks={[0, 3, 6, 9, 12]} />
      <BarPanel box={{ l: 342, t: 17, r: 749, b: 163 }} cats={prenatalCats} values={prenatalValues} brackets={prenatalBrackets} domain={[0, 8.58]} ticks={[0, 2, 4, 6, 8]} angled />

      {/* D */}
      <div style={abs(45 - 24, 219)}>
        <BarChart width={24 + 50} height={126 + 18} data={[chromatinRow]} margin={{ left: 0, top: 0, right: 0, bottom: 0 }} style={{ fontFamily: FONT }}>
          <CartesianGrid vertical={false} stroke={GRID} strokeWidth={1.2} />
          <XAxis dataKey="name" height={18} axisLine={false} tickLine={false} tickSize={1} interval={0} tick={{ fontSize: 9.7, fill: '#333' }} />
          <YAxis width={24} domain={[-4.7, 104.7]} ticks={[0, 25, 50, 75, 100]} interval={0} axisLine={false} tickLine={false} tickSize={3} tick={{ fontSize: 9, fill: TICK }} allowDataOverflow />
          {chromatinStates.map((s, i) => (
            <Bar key={s} dataKey={s} stackId="a" fill={chromatinColors[i]} barSize={29} isAnimationActive={false} />
          ))}
        </BarChart>
      </div>

      {/* F */}
      <div style={abs(222 - 28, 219)}>
        <ScatterChart width={28 + 127} height={126.7 + 18} margin={{ left: 0, top: 0, right: 0, bottom: 0 }} style={{ fontFamily: FONT }}>
          <CartesianGrid stroke={GRID} strokeWidth={1.6} />
          <XAxis type="number" dataKey="x" domain={[-1.06, 1.18]} ticks={[-1, -0.5, 0, 0.5, 1]} height={18} axisLine={false} tickLine={false} tickSize={2} interval={0} tickFormatter={(v: number) => (v < 0 ? '−' : '') + Math.abs(v).toFixed(1)} tick={{ fontSize: 9, fill: TICK }} allowDataOverflow />
          <YAxis type="number" dataKey="y" width={28} domain={[-446, 447]} ticks={[-400, 0, 400]} axisLine={false} tickLine={false} tickSize={3} interval={0} tickFormatter={(v: number) => (v < 0 ? '−' : '') + Math.abs(v)} tick={{ fontSize: 9, fill: TICK }} allowDataOverflow />
          <Scatter data={toXY(posPoints)} shape={Dot(1.1, SERIES_COLORS[0])} isAnimationActive={false} />
          <Scatter data={toXY(negPoints)} shape={Dot(1.2, SERIES_COLORS[1])} isAnimationActive={false} />
          <ReferenceLine segment={negTrend.map(([x, y]) => ({ x, y }))} stroke="#7CC3DC" strokeWidth={2.2} ifOverflow="visible" />
          <ReferenceLine segment={posTrend.map(([x, y]) => ({ x, y }))} stroke={SERIES_COLORS[0]} strokeWidth={1} ifOverflow="visible" />
        </ScatterChart>
      </div>

      {/* E */}
      <div style={abs(36 - 24, 395)}>
        <ScatterChart width={24 + 294.7} height={125.7 + 44} margin={{ left: 0, top: 0, right: 0, bottom: 0 }} style={{ fontFamily: FONT }}>
          <CartesianGrid stroke={GRID} strokeWidth={1.2} />
          <XAxis type="number" dataKey="i" domain={[-0.6, 16.6]} ticks={tfNames.map((_, i) => i)} interval={0} height={44} axisLine={false} tickLine={false} tickSize={2} tick={tfTick} allowDataOverflow />
          <YAxis type="number" dataKey="p" width={24} domain={[1.623, 3.99]} ticks={[2, 2.5, 3, 3.5]} interval={0} axisLine={false} tickLine={false} tickSize={3} tickFormatter={(v: number) => v.toFixed(1)} tick={{ fontSize: 9, fill: TICK }} allowDataOverflow />
          <Scatter data={tfData} shape={tfShape} isAnimationActive={false} />
        </ScatterChart>
      </div>

      {/* G: highlighted locus behind both association plots */}
      <div style={{ ...abs(532.7, 238), width: 30.6, height: 128, background: '#E3E2E5' }} />

      <div style={abs(400 - 18, 238 - 6)}>
        <ScatterChart width={18 + 343} height={6 + 49 + 6} margin={{ left: 0, top: 6, right: 0, bottom: 6 }} style={{ fontFamily: FONT }}>
          <XAxis type="number" dataKey="x" domain={[1.9, 3.0]} hide />
          <YAxis type="number" dataKey="y" width={18} domain={[0, 25]} ticks={[0, 5, 10, 15, 20, 25]} interval={0} tickSize={3} tickMargin={1} stroke="#444" tick={{ fontSize: 8.5, fill: '#666' }} />
          <Scatter data={greyBand} shape={Dot(1.5, '#CFCDCC')} isAnimationActive={false} />
          <Scatter data={toXY(gwasSignificant)} shape={Dot(1.3, '#F7A80F')} isAnimationActive={false} />
        </ScatterChart>
      </div>

      <div style={abs(400 - 18, 312 - 6)}>
        <ScatterChart width={18 + 343} height={6 + 48.7 + 6} margin={{ left: 0, top: 6, right: 0, bottom: 6 }} style={{ fontFamily: FONT }}>
          <XAxis type="number" dataKey="x" domain={[1.9, 3.0]} hide />
          <YAxis type="number" dataKey="y" width={18} domain={[0, 4]} ticks={[0, 1, 2, 3, 4]} interval={0} tickSize={3} tickMargin={1} stroke="#444" tick={{ fontSize: 8.5, fill: '#666' }} />
          <Scatter data={toXY(mpraGrey)} shape={Dot(0.8, '#BDBBBB')} isAnimationActive={false} />
          <Scatter data={toXY(mpraPositive)} shape={Dot(1.1, SERIES_COLORS[0])} isAnimationActive={false} />
        </ScatterChart>
      </div>

      <div style={abs(395, 388)}>
        <ScatterChart width={350} height={20} margin={{ left: 0, top: 0, right: 0, bottom: 0 }}>
          <XAxis type="number" dataKey="x" domain={[1.884, 3.006]} hide allowDataOverflow />
          <YAxis type="number" dataKey="y" domain={[-1, 2]} hide allowDataOverflow />
          <Scatter data={[]} isAnimationActive={false} />
          {geneChart(geneLinesPlus, geneExonsPlus, 1, '#8DB3E2')}
          {geneChart(geneLinesMinus, geneExonsMinus, 0, '#B5D58A')}
        </ScatterChart>
      </div>

      <div style={abs(399.3, 456.7)}>
        <ScatterChart width={172.4} height={20} margin={{ left: 0, top: 0, right: 0, bottom: 0 }}>
          <XAxis type="number" dataKey="x" domain={[2.3255, 2.4238]} hide />
          <YAxis type="number" dataKey="y" domain={[0, 3.14]} hide />
          <Scatter data={toXY(mpraGrey)} shape={Dot(0.7, '#AAA')} isAnimationActive={false} />
          <Scatter data={toXY(locusGwas)} shape={Dot(1, '#F7A80F')} isAnimationActive={false} />
        </ScatterChart>
      </div>

      <Track top={488.3} data={neuroSignal.map((v, i) => ({ x: i * 5, v }))} fill="#8CCB7A" base="#C4E5BB" />
      <Track top={516.8} data={oligoSignal.map(([x, v]) => ({ x, v }))} fill="#CFC3E0" base="#E6E0EF" />
      <Track top={545.1} data={astroSignal.map(([x, v]) => ({ x, v }))} fill="#F9C89A" base="#FCE6D4" />
      <Track top={573.5} data={microSignal.map(([x, v]) => ({ x, v }))} fill="#F6E98A" base="#FBF6CC" />

      {/* motif logo, with the variant column shaded behind it */}
      <div style={{ ...abs(637, 438), width: 7, height: 21, background: '#BCD7E6' }} />
      <div style={{ ...abs(637, 459), width: 7, height: 37.5, background: '#DEDEDE' }} />
      <div style={abs(636.6, 461)}>
        <BarChart width={95.6} height={35} data={logoData} margin={{ left: 0, top: 0, right: 0, bottom: 0 }} barGap={0}>
          <XAxis dataKey="pos" hide />
          <YAxis domain={[0, 2]} hide />
          <Bar dataKey="lower" stackId="logo" barSize={6.83} isAnimationActive={false} shape={(p: any) => <LetterShape {...p} letter={p.payload.l} />} />
          <Bar dataKey="upper" stackId="logo" barSize={6.83} isAnimationActive={false} shape={(p: any) => <LetterShape {...p} letter={p.payload.u} />} />
        </BarChart>
      </div>

      {/* boxplot */}
      <div style={abs(630 - 24, 505)}>
        <ComposedChart width={24 + 111} height={85.7 + 16} data={boxData} margin={{ left: 0, top: 0, right: 0, bottom: 0 }} style={{ fontFamily: FONT }}>
          <CartesianGrid vertical={false} stroke={GRID} strokeWidth={1.2} />
          <XAxis dataKey="a" height={16} axisLine={false} tickLine={false} tickSize={1} padding={{ left: 5, right: 5 }} interval={0} tick={{ fontSize: 10, fill: '#222' }} />
          <XAxis xAxisId="num" type="number" dataKey="x" domain={[0, 2]} hide padding={{ left: 5, right: 5 }} />
          <YAxis type="number" width={24} domain={[1.2, 3.23]} ticks={[1.5, 2, 2.5, 3]} interval={0} axisLine={false} tickLine={false} tickSize={3} tick={{ fontSize: 9, fill: TICK }} allowDataOverflow />
          <Bar dataKey="iqr" barSize={20} isAnimationActive={false} shape={BoxShape} />
          <Scatter xAxisId="num" dataKey="y" data={toXY(allelePoints)} shape={Dot(1.1, '#111')} isAnimationActive={false} />
        </ComposedChart>
      </div>

      <Overlay />
    </div>
  )
}
